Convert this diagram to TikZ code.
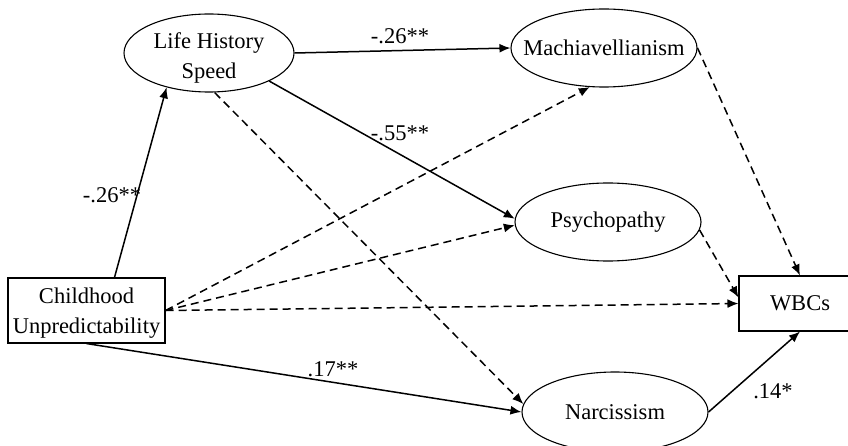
\documentclass[tikz,border=0pt]{standalone}
\usepackage{fontspec}
\setmainfont{Liberation Serif}
\usetikzlibrary{shapes.geometric,arrows.meta,calc}
\begin{document}
\begin{tikzpicture}[x=1pt,y=1pt,
  every node/.style={font=\fontsize{22.5}{30}\selectfont, text=black},
  latent/.style={ellipse, draw, line width=1.1pt, inner sep=0pt, align=center},
  observed/.style={rectangle, draw, line width=1.1pt, inner sep=0pt, align=center},
  lbl/.style={inner sep=0pt},
  path/.style={line width=1.5pt, -{Latex[length=11pt,width=9pt]}},
  nspath/.style={path, dash pattern=on 8pt off 5pt}]
\useasboundingbox (0,0) rectangle (848,445);
\clip (0,0) rectangle (848,445);
\node[latent, minimum width=170pt, minimum height=78pt] (lhs) at (209,392) {};
\node[align=center, inner sep=0pt] (lhst) at (209,387) {Life History\\Speed};
\node[latent, minimum width=186pt, minimum height=78pt] (mach) at (604,397) {\makebox[0pt]{Machiavellianism}};
\node[latent, minimum width=186pt, minimum height=78pt] (psy) at (608,223) {\makebox[0pt]{Psychopathy}};
\node[latent, minimum width=186pt, minimum height=80pt] (narc) at (615,33) {\makebox[0pt]{Narcissism}};
\node[observed, minimum width=157pt, minimum height=65pt] (child) at (86.5,134.5) {};
\node[align=center, inner sep=0pt] (childt) at (86.5,132) {Childhood\\Unpredictability};
\node[observed, minimum width=122pt, minimum height=55pt] (wbc) at (800,141.5) {WBCs};

\draw[path] ($(child.north)+(28,0)$) -- (lhs.219);
\draw[path] (lhs.east) -- (mach.west);
\draw[path] (lhs.-25) -- (psy.178);
\draw[nspath] (lhs.-82) -- (narc.175);
\draw[nspath] (child.east) -- (mach.-110);
\draw[nspath] (child.east) -- (psy.182);
\draw[nspath] (child.east) -- (wbc.west);
\draw[path] (child.south) -- (narc.west);
\draw[nspath] (mach.east) -- (wbc.north);
\draw[nspath] (psy.-5) -- ($(wbc.west)+(0,6)$);
\draw[path] (narc.east) -- (wbc.south);

\node[lbl] (l1) at (112,250) {-.26**};
\node[lbl] (l2) at (400,409) {-.26**};
\node[lbl] (l3) at (400,312) {-.55**};
\node[lbl] (l4) at (333,76) {.17**};
\node[lbl] (l5) at (773,54) {.14*};
\end{tikzpicture}
\end{document}
